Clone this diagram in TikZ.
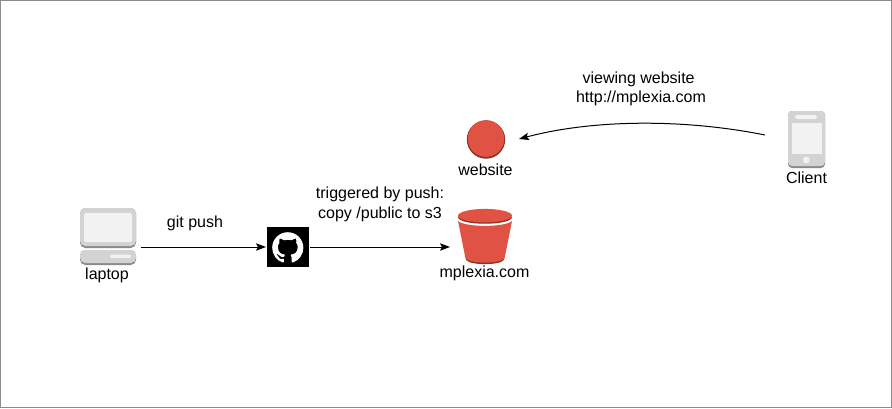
\documentclass[tikz,border=0pt]{standalone}
\usepackage{fontspec}
\setmainfont{Liberation Sans}
\usetikzlibrary{arrows.meta,svg.path}
\definecolor{awsred}{HTML}{E05243}
\definecolor{awsdark}{HTML}{8C3123}
\definecolor{devlight}{HTML}{D2D3D3}
\definecolor{devdark}{HTML}{8A8A8A}
\definecolor{devwhite}{HTML}{F2F2F2}
\definecolor{framegray}{HTML}{8C8C8C}
\tikzset{
  label text/.style={font=\fontsize{12pt}{14.6pt}\selectfont, align=center, inner sep=0pt, text=black},
  hit area/.style={inner sep=0pt, outer sep=0pt},
  link/.style={-{Stealth[length=7.5pt,width=5.5pt,inset=1.5pt]}, line width=0.75pt, black},
}
\begin{document}
\begin{tikzpicture}[x=0.75pt,y=-0.75pt]
\useasboundingbox (0,0) rectangle (892,408);
\fill[white] (0,0) rectangle (892,408);
\draw[framegray,line width=0.9pt] (0.7,0.7) rectangle (891.3,407.3);

% laptop
\fill[devdark,rounded corners=4pt] (80,208) rectangle (136,248);
\fill[devlight,rounded corners=4pt] (80,208) rectangle (136,246);
\fill[devwhite,rounded corners=1.5pt] (84,213) rectangle (132,242);
\fill[devdark,rounded corners=4pt] (80,250) rectangle (136,265);
\fill[devlight,rounded corners=4pt] (80,250) rectangle (136,263);
\fill[devwhite,rounded corners=1pt] (110,254.5) rectangle (131,258);
\node[hit area,minimum width=45.75pt,minimum height=42pt] (laptop) at (110,236) {};
\node[label text] (laptoplabel) at (107,275.5) {laptop};

% github
\node[fill=black,hit area,minimum width=31.5pt,minimum height=30pt,outer sep=0.75pt] (github) at (288,247) {};
\begin{scope}[shift={(272.2,232.2)},xscale=1.46,yscale=-1.46]
\fill[white] svg {M 8 0 C 3.58 0 0 3.58 0 8 c 0 3.54 2.29 6.53 5.47 7.59 c 0.4 0.07 0.55 -0.17 0.55 -0.38 c 0 -0.19 -0.01 -0.82 -0.01 -1.49 c -2.01 0.37 -2.53 -0.49 -2.69 -0.94 c -0.09 -0.23 -0.48 -0.94 -0.82 -1.13 c -0.28 -0.15 -0.68 -0.52 -0.01 -0.53 c 0.63 -0.01 1.08 0.58 1.23 0.82 c 0.72 1.21 1.87 0.87 2.33 0.66 c 0.07 -0.52 0.28 -0.87 0.51 -1.07 c -1.78 -0.2 -3.64 -0.89 -3.64 -3.95 c 0 -0.87 0.31 -1.59 0.82 -2.15 c -0.08 -0.2 -0.36 -1.02 0.08 -2.12 c 0 0 0.67 -0.21 2.2 0.82 c 0.64 -0.18 1.32 -0.27 2 -0.27 c 0.68 0 1.36 0.09 2 0.27 c 1.53 -1.04 2.2 -0.82 2.2 -0.82 c 0.44 1.1 0.16 1.92 0.08 2.12 c 0.51 0.56 0.82 1.27 0.82 2.15 c 0 3.07 -1.87 3.75 -3.65 3.95 c 0.29 0.25 0.54 0.73 0.54 1.48 c 0 1.07 -0.01 1.93 -0.01 2.2 c 0 0.21 0.15 0.46 0.55 0.38 C 13.71 14.53 16 11.53 16 8 c 0 -4.42 -3.58 -8 -8 -8 z};
\end{scope}

% website
\fill[awsdark] (486,139.5) circle[radius=14.4pt];
\fill[awsred] (486,138.6) circle[radius=13.7pt];
\node[hit area,minimum size=49.5pt] (website) at (486,139) {};
\node[label text] (websitelabel) at (485.5,170) {website};

% bucket
\fill[awsdark] (465.5,255) -- (504.5,255) -- (503.8,260) .. controls (500,265.5) and (470,265.5) .. (466.2,260) -- cycle;
\fill[awsred] (458,221) .. controls (465,227.5) and (505,227.5) .. (512,221) -- (504.5,258.5) .. controls (500,264) and (470,264) .. (465.5,258.5) -- cycle;
\fill[awsdark] (458,216.5) .. controls (458,226) and (512,226) .. (512,216.5) -- cycle;
\fill[awsred] (485,215.7) ellipse[x radius=27,y radius=6.8];
\node[hit area,minimum width=52.5pt,minimum height=42pt] (bucket) at (485,240) {};
\node[label text] (bucketlabel) at (484.5,273.5) {mplexia.com};

% client
\fill[devdark,rounded corners=3pt] (788,111) rectangle (825,168);
\fill[devlight,rounded corners=3pt] (788,111) rectangle (825,166);
\fill[devwhite] (792,123) rectangle (822,154);
\fill[devwhite,rounded corners=1.2pt] (795,115) rectangle (817,119);
\fill[devwhite] (806.3,160) circle[radius=2.6pt];
\node[hit area,minimum width=62.25pt,minimum height=36pt] (client) at (806.5,135) {};
\node[label text] (clientlabel) at (806.5,177.5) {Client};

% labels
\node[label text] (gitpush) at (195,223) {git push};
\node[label text] (trigger) at (380,204.5) {triggered by push:\\copy /public to s3};
\node[label text] (viewing) at (641,89) {viewing website\hspace*{3.6pt}\\http://mplexia.com};

% connectors
\draw[link] (laptop.east |- github.west) -- (github.west);
\draw[link] (github.east) -- (bucket.west |- github.east);
\draw[link] (client.west) .. controls (680,118) and (590,120) .. (website.east);
\end{tikzpicture}
\end{document}
